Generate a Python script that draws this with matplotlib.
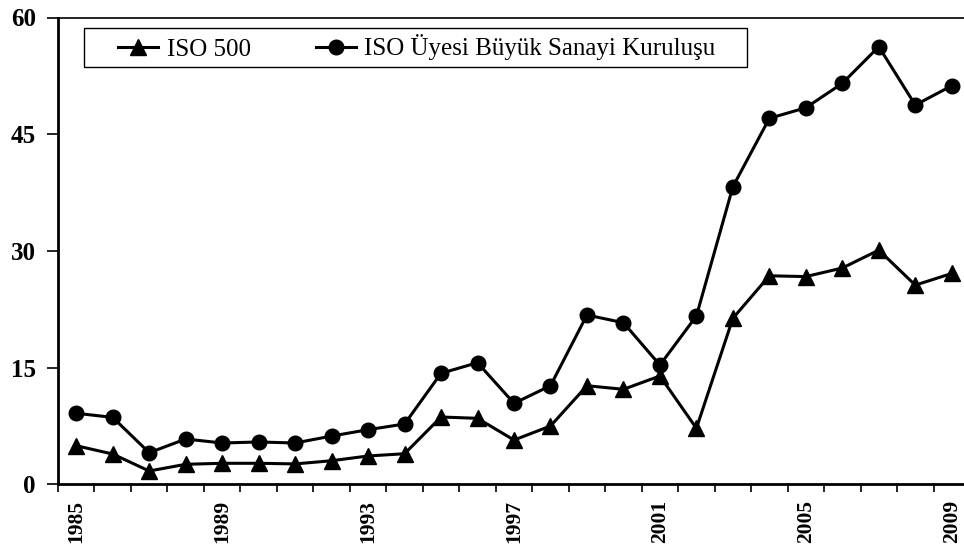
import matplotlib
matplotlib.use("Agg")
import matplotlib.pyplot as plt
import numpy as np
from matplotlib.ticker import FixedLocator
from matplotlib.patches import Rectangle

years = list(range(1985, 2010))
iso500 = [4.96, 3.89, 1.71, 2.57, 2.7, 2.7, 2.62, 3.03, 3.64, 3.93, 8.65, 8.48,
          5.69, 7.49, 12.67, 12.21, 13.92, 7.2, 21.34, 26.8, 26.7, 27.8, 30.1, 25.6, 27.1]
iso_uye = [9.13, 8.6, 4.06, 5.82, 5.31, 5.44, 5.31, 6.2, 7.02, 7.75, 14.27, 15.63,
           10.41, 12.67, 21.76, 20.77, 15.33, 21.63, 38.25, 47.04, 48.4, 51.54, 56.25, 48.75, 51.23]
yticks = [0, 15, 30, 45, 60]
label_years = [1985, 1989, 1993, 1997, 2001, 2005, 2009]

plt.rcParams['font.family'] = ['Liberation Serif', 'DejaVu Serif']

fig = plt.figure(figsize=(9.64, 5.44), dpi=100)
ax = fig.add_axes([58/964, 1-484.3/544, (970-58)/964, (484.3-17.5)/544])

x = np.arange(len(years))
ax.plot(x, iso500, color='black', lw=2.2, marker='^', ms=11, label='ISO 500', clip_on=False)
ax.plot(x, iso_uye, color='black', lw=2.2, marker='o', ms=10.5, label='ISO Üyesi Büyük Sanayi Kuruluşu', clip_on=False)

ax.set_xlim(-0.5, len(years) - 0.5)
ax.set_ylim(0, 60)
ax.set_yticks(yticks)
ax.set_yticklabels([str(v) for v in yticks], fontsize=18, fontweight='bold')
ax.tick_params(axis='y', direction='out', length=8, width=1.2, pad=8)

ax.set_xticks([years.index(y) for y in label_years])
ax.set_xticklabels([str(y) for y in label_years], rotation=90, fontsize=15.5, fontweight='bold')
ax.tick_params(axis='x', which='major', length=0, pad=11.5)
ax.xaxis.set_minor_locator(FixedLocator(np.arange(-0.5, len(years), 1.0)))
ax.tick_params(axis='x', which='minor', direction='out', length=6, width=1.2)

for s in ['left', 'bottom']:
    ax.spines[s].set_linewidth(2)
for s in ['top', 'right']:
    ax.spines[s].set_linewidth(1.2)

# legend frame
W, H = 912, 466.8
x0 = (84 - 58) / W
x1 = (747 - 58) / W
yt = (484.3 - 28.3) / H
yb = (484.3 - 66.7) / H
ax.add_patch(Rectangle((x0, yb), x1 - x0, yt - yb, transform=ax.transAxes,
                       facecolor='white', edgecolor='black', lw=1.0, zorder=5, clip_on=False))

leg = ax.legend(loc='center left', ncol=2, fontsize=18, frameon=False,
                handlelength=1.6, handletextpad=0.35, columnspacing=2.6,
                borderpad=0, borderaxespad=0,
                bbox_to_anchor=((118 - 58) / W, (yt + yb) / 2))
leg.set_zorder(6)

fig.savefig('out.png', dpi=100)
